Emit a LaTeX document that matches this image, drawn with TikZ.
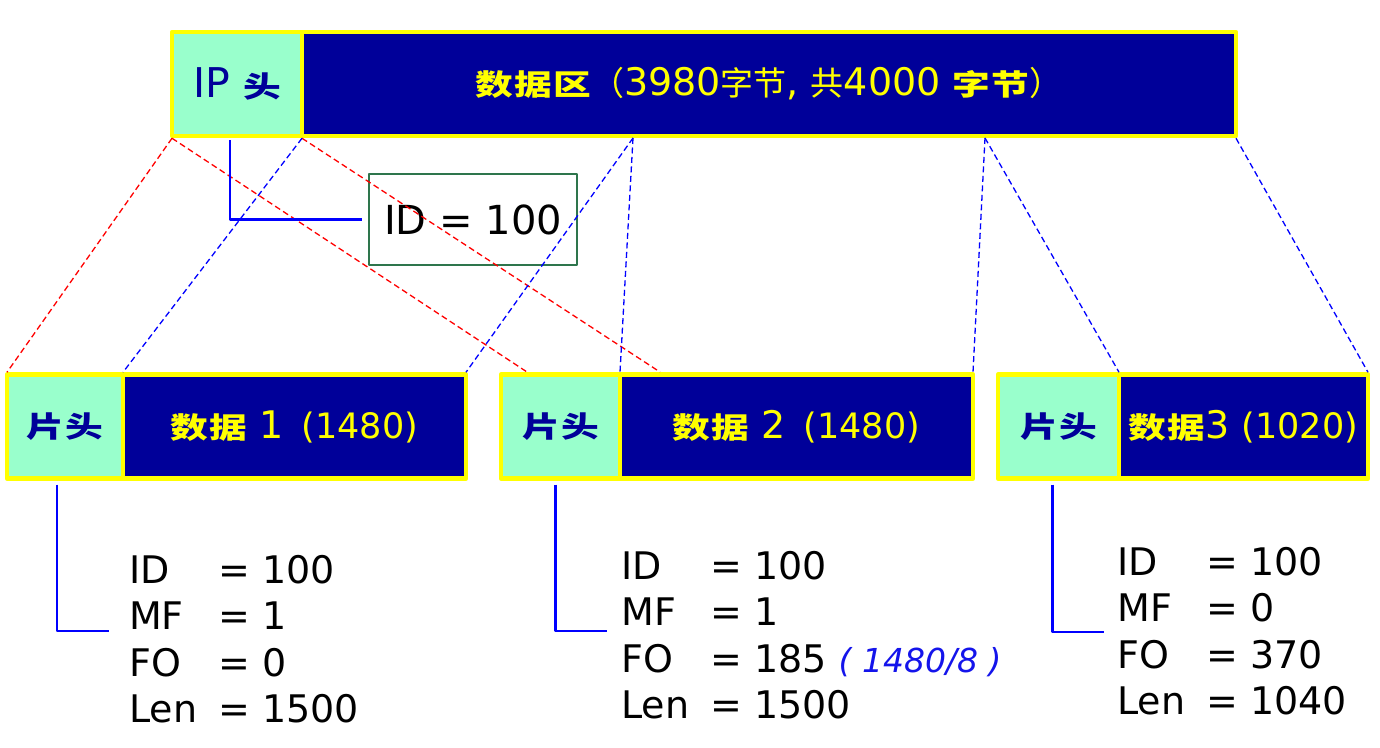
\documentclass[tikz,border=0pt]{standalone}
\usepackage{fontspec}
\setmainfont{DejaVu Sans}
\newfontfamily\cjk{Noto Sans CJK SC}
\newfontfamily\cjkwide{Noto Sans CJK SC}[FakeStretch=1.3]
\usepackage{tikz}
\usetikzlibrary{calc}
\usetikzlibrary{positioning}
\definecolor{NavyFill}{RGB}{0,0,153}
\definecolor{AquaFill}{RGB}{153,255,204}
\definecolor{GoldEdge}{RGB}{255,255,0}
\definecolor{BoxGreen}{RGB}{46,117,76}
\definecolor{LinkBlue}{RGB}{0,0,255}
\definecolor{CutRed}{RGB}{255,0,0}
\definecolor{NoteBlue}{RGB}{20,20,235}
\newcommand{\fs}[1]{\fontsize{#1}{#1}\selectfont}
\newcommand{\hanzi}[1]{{\cjkwide\bfseries\fs{29}\addfontfeature{LetterSpace=4}#1}}
\tikzset{
	hdrbox/.style={draw=GoldEdge, line width=4.5pt, fill=AquaFill, text=NavyFill,
		inner sep=0pt, outer sep=0pt, minimum height=104pt},
	databox/.style={hdrbox, fill=NavyFill, text=GoldEdge},
	idframe/.style={draw=BoxGreen, line width=1.3pt, inner sep=0pt,
		minimum width=208pt, minimum height=91pt, font=\fs{40}},
	fragtext/.style={anchor=base west, inner sep=0pt, font=\fontsize{38}{46.5}\selectfont},
	cutline/.style={CutRed, line width=1.3pt, dash pattern=on 6pt off 3.5pt},
	spanline/.style={LinkBlue, line width=1.3pt, dash pattern=on 6pt off 3.5pt},
	link/.style={LinkBlue, line width=2.5pt},
}

\begin{document}
\begin{tikzpicture}[x=1pt, y=-1pt, line join=round]
	\useasboundingbox (0,0) rectangle (1380,747);
	
	% Original datagram
	\node[hdrbox, minimum width=130pt] (iphead) at (237,84) {\fs{41}IP \hanzi{头}};
	\node[databox, minimum width=934pt, right=0pt of iphead] (ipdata)
		{\hanzi{数据区}{\cjk\fs{33}（}\fs{38}3980{\cjk\fs{33}字节}, {\cjk\fs{33}共}4000 \hanzi{字节}{\cjk\fs{33}）}};
	
	% Identification box
	\node[idframe] (idbox) at (473,219.5) {ID = 100};
	
	% Fragments
	\node[hdrbox, minimum width=116pt] (f1head) at (65,426.5) {\hanzi{片头}};
	\node[databox, minimum width=343pt, right=0pt of f1head] (f1data)
		{\fs{38}\hanzi{数据} 1\hspace{18pt}{\fs{35}(1480)}};
	\node[hdrbox, minimum width=119pt] (f2head) at (560.5,426.5) {\hanzi{片头}};
	\node[databox, minimum width=353pt, right=0pt of f2head] (f2data)
		{\fs{38}\hanzi{数据} 2\hspace{18pt}{\fs{35}(1480)}};
	\node[hdrbox, minimum width=121pt] (f3head) at (1058.5,426.5) {\hanzi{片头}};
	\node[databox, minimum width=249pt, right=0pt of f3head] (f3data)
		{\fs{38}\hanzi{数据}3 {\fs{35}(1020)}};
	
	% Header fields of each fragment
	\node[fragtext] (f1txt) at (129,583) {\begin{tabular}[t]{@{}l@{\hspace{21pt}}l@{}}
		ID & = 100\\ MF & = 1\\ FO & = 0\\ Len & = 1500\end{tabular}};
	\node[fragtext] (f2txt) at (621,579) {\begin{tabular}[t]{@{}l@{\hspace{21pt}}l@{}}
		ID & = 100\\ MF & = 1\\
		FO & = 185 {\color{NoteBlue}\itshape\fs{33}( 1480/8 )}\\ Len & = 1500\end{tabular}};
	\node[fragtext] (f3txt) at (1117,575) {\begin{tabular}[t]{@{}l@{\hspace{21pt}}l@{}}
		ID & = 100\\ MF & = 0\\ FO & = 370\\ Len & = 1040\end{tabular}};
	
	% Cut points on the datagram, ends on fragment 2
	\coordinate (cutA) at (633,138);
	\coordinate (cutB) at (985,138);
	\coordinate (redA) at (527,372);
	\coordinate (redB) at (660,372);
	
	% Red mapping of the header
	\draw[cutline] ([yshift=-2.25pt]iphead.south west) -- ([yshift=2.25pt]f1head.north west);
	\draw[cutline] ([yshift=-2.25pt]iphead.south west) -- (redA);
	\draw[cutline] ([yshift=-2.25pt]iphead.south east) -- (redB);
	
	% Blue mapping of the data
	\draw[spanline] ([yshift=-2.25pt]iphead.south east) -- ([yshift=2.25pt]f1data.north west);
	\draw[spanline] (cutA) -- ([yshift=2.25pt]f1data.north east);
	\draw[spanline] (cutA) -- ([yshift=2.25pt]f2data.north west);
	\draw[spanline] (cutB) -- ([yshift=2.25pt]f2data.north east);
	\draw[spanline] (cutB) -- ([yshift=2.25pt]f3data.north west);
	\draw[spanline] ([yshift=-2.25pt]ipdata.south east) -- ([yshift=2.25pt]f3data.north east);
	
	% Header to field connectors
	\draw[link] ([xshift=-7pt,yshift=-4pt]iphead.south) |- ([xshift=-6pt]idbox.west);
	\draw[link] ([xshift=-8pt,yshift=-6pt]f1head.south) |- ($(f1txt.base west)+(-20,48)$);
	\draw[link] ([xshift=-5pt,yshift=-6pt]f2head.south) |- ($(f2txt.base west)+(-14,52)$);
	\draw[link] ([xshift=-6pt,yshift=-6pt]f3head.south) |- ($(f3txt.base west)+(-13,57)$);
	
\end{tikzpicture}
\end{document}
